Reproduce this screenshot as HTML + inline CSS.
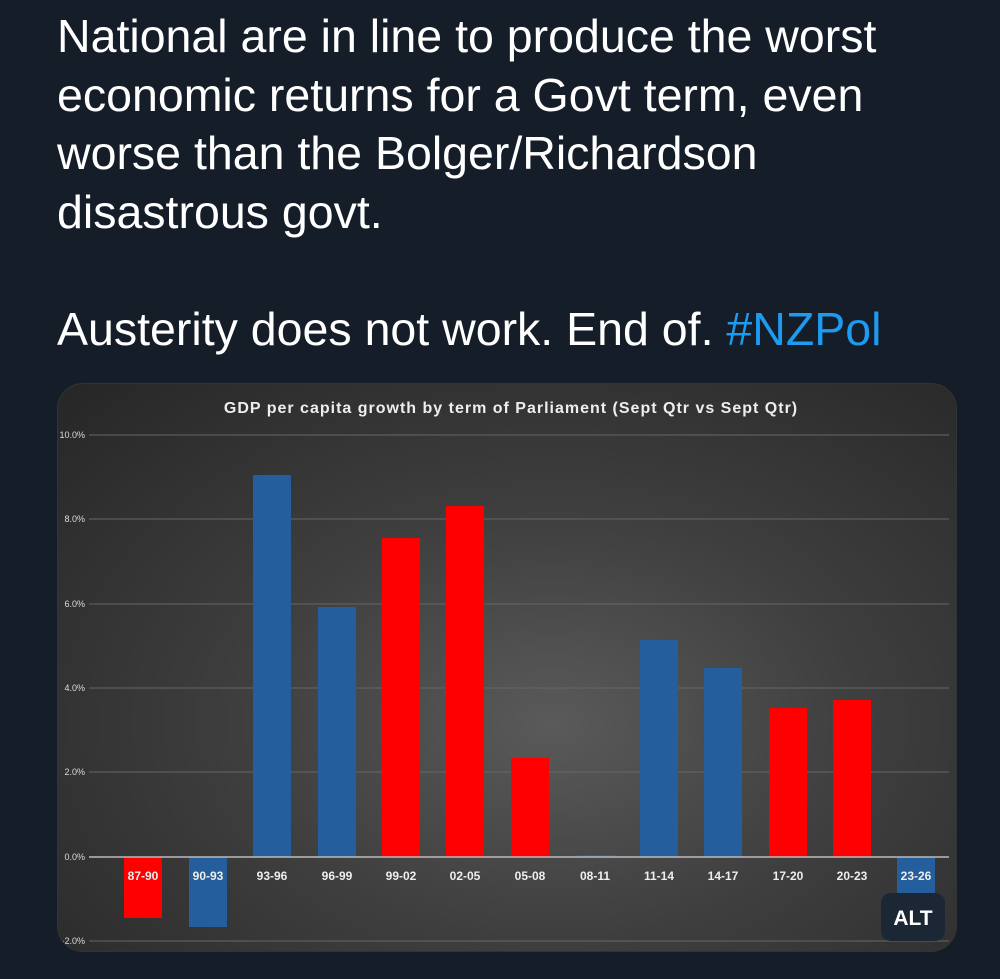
<!DOCTYPE html>
<html><head><meta charset="utf-8"><style>
body{margin:0;width:1000px;height:979px;background:#151d28;overflow:hidden;font-family:"Liberation Sans",sans-serif;position:relative}
.t{position:absolute;left:57px;color:#fff;font-size:46.5px;line-height:58.5px;top:7px;white-space:nowrap}
.card{position:absolute;left:57px;top:383px;width:898px;height:567px;border-radius:26px;overflow:hidden;background:radial-gradient(ellipse at 55% 60%,#5a5a5a 0%,#3e3e3e 45%,#262626 100%);border:1px solid #333}
</style></head><body>
<div class="t">National are in line to produce the worst<br>economic returns for a Govt term, even<br>worse than the Bolger/Richardson<br>disastrous govt.<br><br>Austerity does not work. End of. <span style="color:#1d9bf0">#NZPol</span></div>
<div class="card">
<svg width="898" height="567" viewBox="57 383 898 567" style="position:absolute;left:0;top:0">
<g font-family="Liberation Sans,sans-serif">
<text x="510" y="412" fill="#eee" font-size="16" font-weight="bold" text-anchor="middle" letter-spacing="1">GDP per capita growth by term of Parliament (Sept Qtr vs Sept Qtr)</text>
<g stroke="#666" stroke-width="1">
<line x1="88" x2="948" y1="434" y2="434"/><line x1="88" x2="948" y1="518" y2="518"/><line x1="88" x2="948" y1="603" y2="603"/><line x1="88" x2="948" y1="687" y2="687"/><line x1="88" x2="948" y1="771" y2="771"/><line x1="88" x2="948" y1="940" y2="940"/>
</g>
<g fill="#ddd" font-size="9" text-anchor="end">
<text x="84" y="437">10.0%</text><text x="84" y="521">8.0%</text><text x="84" y="606">6.0%</text><text x="84" y="690">4.0%</text><text x="84" y="774">2.0%</text><text x="84" y="859">0.0%</text><text x="84" y="943">-2.0%</text>
</g>
<g fill="#ff0000">
<rect x="123" y="856" width="38" height="61"/><rect x="381" y="537" width="38" height="319"/><rect x="445" y="505" width="38" height="351"/><rect x="510" y="757" width="38" height="99"/><rect x="768" y="707" width="38" height="149"/><rect x="832" y="699" width="38" height="157"/>
</g>
<g fill="#255e9c">
<rect x="188" y="856" width="38" height="70"/><rect x="252" y="474" width="38" height="382"/><rect x="317" y="606" width="38" height="250"/><rect x="576" y="854" width="38" height="2"/><rect x="639" y="639" width="38" height="217"/><rect x="703" y="667" width="38" height="189"/><rect x="896" y="856" width="38" height="40"/>
</g>
<line x1="88" x2="948" y1="856" y2="856" stroke="#bbb" stroke-width="1.5"/>
<g fill="#eee" font-size="12" font-weight="bold" text-anchor="middle">
<text x="142" y="879">87-90</text><text x="207" y="879">90-93</text><text x="271" y="879">93-96</text><text x="336" y="879">96-99</text><text x="400" y="879">99-02</text><text x="464" y="879">02-05</text><text x="529" y="879">05-08</text><text x="594" y="879">08-11</text><text x="658" y="879">11-14</text><text x="722" y="879">14-17</text><text x="787" y="879">17-20</text><text x="851" y="879">20-23</text><text x="915" y="879">23-26</text>
</g>
<rect x="880" y="892" width="64" height="48" rx="10" fill="#1c2735"/>
<text x="912" y="924" fill="#fff" font-size="21" font-weight="bold" text-anchor="middle">ALT</text>
</g></svg>
</div>
</body></html>
